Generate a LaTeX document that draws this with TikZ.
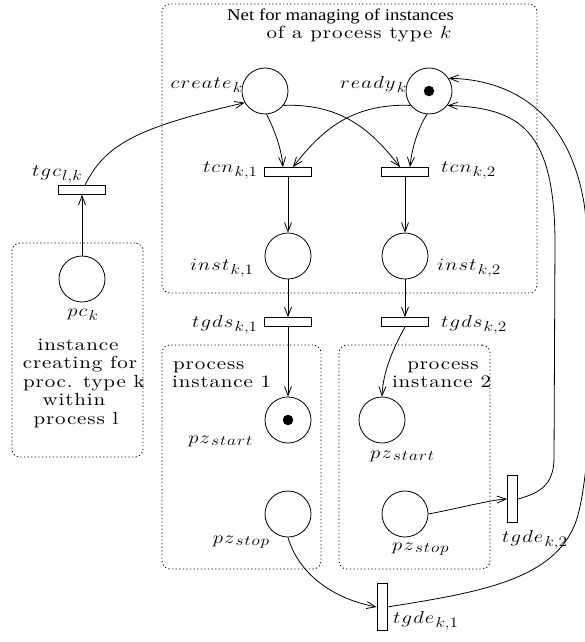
\documentclass[tikz,border=0pt]{standalone}
\usepackage{graphicx}
\usepackage{fontspec}
\usetikzlibrary{arrows.meta,calc}
\newfontfamily\timesf{Liberation Serif}
\newfontfamily\cmsp{lmroman10-regular}[Extension=.otf,LetterSpace=4]
\DeclareMathSizes{17}{17}{14}{11}
% math identifiers set with a little space between their letters
\makeatletter
\newcommand\spmath[1]{\@tfor\spm@t:=#1\do{\spm@t\mkern1mu}}
\makeatother
% all texts are set slightly widened
\newcommand\wtxt[1]{\scalebox{1.2}[1]{#1}}
\tikzset{
  place/.style={draw, circle, line width=0.8pt, minimum size=46pt, inner sep=0pt},
  token/.style={fill, circle, minimum size=10.5pt, inner sep=0pt},
  transh/.style={draw, rectangle, line width=0.8pt, minimum width=47pt, minimum height=9pt, inner sep=0pt},
  transv/.style={draw, rectangle, line width=0.8pt, minimum width=10pt, minimum height=47pt, inner sep=0pt},
  frame/.style={draw, rectangle, rounded corners=8pt, line width=0.8pt, dash pattern=on 1.2pt off 2.4pt, inner sep=0pt},
  arc/.style={draw, line width=0.8pt, -{Straight Barb[length=9pt,width=7pt]}},
  mlbl/.style={font=\fontsize{17}{20}\selectfont, inner sep=0pt},
  romsp/.style={font=\cmsp\fontsize{17.5}{18.5}\selectfont, inner sep=0pt},
}
\begin{document}
\begin{tikzpicture}[x=1pt,y=-1pt]
\useasboundingbox (0,0) rectangle (584,642);

% dotted frames
\node[frame, minimum width=375pt, minimum height=289pt] (netbox) at (349.5,148.5) {};
\node[frame, minimum width=131pt, minimum height=214pt] (crbox) at (77.5,350) {};
\node[frame, minimum width=159pt, minimum height=224pt] (pibox1) at (241.5,457) {};
\node[frame, minimum width=151pt, minimum height=224pt] (pibox2) at (414.5,457) {};

% frame texts
\node[anchor=base, inner sep=0pt, font=\timesf\fontsize{16.5}{20}\selectfont] (title1) at (340.5,21) {\scalebox{1.14}[1]{Net for managing of instances}};
\node[romsp, anchor=base] (title2) at (359,39) {\wtxt{of a process type $k$}};
\node[romsp, anchor=base] (cr1) at (78,350) {\wtxt{instance}};
\node[romsp, anchor=base] (cr2) at (80,368.5) {\wtxt{creating for}};
\node[romsp, anchor=base] (cr3) at (84,387) {\wtxt{proc. type k}};
\node[romsp, anchor=base] (cr4) at (74,405.5) {\wtxt{within}};
\node[romsp, anchor=base] (cr5) at (76,424) {\wtxt{process l}};
\node[romsp, anchor=base west] (pa1) at (173,369) {\wtxt{process}};
\node[romsp, anchor=base west] (pa2) at (172,387) {\wtxt{instance 1}};
\node[romsp, anchor=base] (pb1) at (443,369) {\wtxt{process}};
\node[romsp, anchor=base] (pb2) at (441.5,387) {\wtxt{instance 2}};

% places
\node[place] (create) at (265,91) {};
\node[place] (ready) at (429,91) {};
\node[token] (tokready) at (ready) {};
\node[place] (inst1) at (288,256) {};
\node[place] (inst2) at (405,256) {};
\node[place] (pc) at (82,279) {};
\node[place] (pzs1) at (288,420) {};
\node[token] (tokpzs1) at (pzs1) {};
\node[place] (pzp1) at (288,514) {};
\node[place] (pzs2) at (382,420) {};
\node[place] (pzp2) at (405,514) {};

% transitions
\node[transh] (tcn1) at (288,172) {};
\node[transh] (tcn2) at (405,172) {};
\node[transh] (tgds1) at (288,322) {};
\node[transh] (tgds2) at (405,322) {};
\node[transh] (tgc) at (82,190) {};
\node[transv] (tgde2) at (512.5,499) {};
\node[transv] (tgde1) at (382,607) {};

% labels
\node[mlbl, anchor=base east] (lcreate) at (243,88.5) {\wtxt{$\spmath{create}_k$}};
\node[mlbl, anchor=base east] (lready) at (407,88.5) {\wtxt{$\spmath{ready}_k$}};
\node[mlbl, anchor=base east] (ltcn1) at (258,172) {\wtxt{$\spmath{tcn}_{k,1}$}};
\node[mlbl, anchor=base west] (ltcn2) at (441,172) {\wtxt{$\spmath{tcn}_{k,2}$}};
\node[mlbl, anchor=base east] (linst1) at (254,270) {\wtxt{$\spmath{inst}_{k,1}$}};
\node[mlbl, anchor=base west] (linst2) at (437,270) {\wtxt{$\spmath{inst}_{k,2}$}};
\node[mlbl, anchor=base east] (ltgds1) at (258,327) {\wtxt{$\spmath{tgds}_{k,1}$}};
\node[mlbl, anchor=base west] (ltgds2) at (441,327) {\wtxt{$\spmath{tgds}_{k,2}$}};
\node[mlbl, anchor=base west] (ltgc) at (32,176) {\wtxt{$\spmath{tgc}_{l,k}$}};
\node[mlbl, anchor=base] (lpc) at (83,316) {\wtxt{$\spmath{pc}_k$}};
\node[mlbl, anchor=base east] (lpzs1) at (254,443) {\wtxt{$\spmath{pz}_{\spmath{start}}$}};
\node[mlbl, anchor=base east] (lpzp1) at (271,543) {\wtxt{$\spmath{pz}_{\spmath{stop}}$}};
\node[mlbl, anchor=base west] (lpzs2) at (370,458) {\wtxt{$\spmath{pz}_{\spmath{start}}$}};
\node[mlbl, anchor=base west] (lpzp2) at (392,550) {\wtxt{$\spmath{pz}_{\spmath{stop}}$}};
\node[mlbl, anchor=base west] (ltgde2) at (502,542) {\wtxt{$\spmath{tgde}_{k,2}$}};
\node[mlbl, anchor=base west] (ltgde1) at (393,623) {\wtxt{$\spmath{tgde}_{k,1}$}};

% arcs inside the management net
\draw[arc] (create.-86) .. controls (272,125) and (281,145) .. ([xshift=-5pt]tcn1.north);
\draw[arc] (create.-38) .. controls (345,103) and (375,135) .. ([xshift=-5pt]tcn2.north);
\draw[arc] (ready.-142) .. controls (348,103) and (318,135) .. ([xshift=5pt]tcn1.north);
\draw[arc] (ready.-95) .. controls (420,125) and (412,145) .. ([xshift=5pt]tcn2.north);
\draw[arc] (tcn1) -- (inst1);
\draw[arc] (tcn2) -- (inst2);
\draw[arc] (inst1) -- (tgds1);
\draw[arc] (inst2) -- (tgds2);

% starting the instances
\draw[arc] (tgds1) -- (pzs1);
\draw[arc] (tgds2.south) .. controls (395,345) and (383,370) .. (pzs2.north);

% creation request from process l
\draw[arc] (pc) -- (tgc);
\draw[arc] ([xshift=3pt]tgc.north) .. controls (105,145) and (135,128) .. (create.-150);

% termination of the instances
\draw[arc] (pzp2.east) .. controls (460,508) and (490,500) .. (tgde2.west);
\draw[arc] (tgde2.east) .. controls (540,493) and (553,485) .. (554,460)
  -- (555,240) .. controls (554,130) and (520,108) .. (ready.-38);
\draw[arc] (pzp1.south) .. controls (298,572) and (330,598) .. (tgde1.west);
\draw[arc] (tgde1.east) .. controls (480,592) and (560,580) .. (578,515)
  .. controls (595,450) and (595,280) .. (584,203)
  .. controls (570,120) and (520,80) .. (ready.33);
\end{tikzpicture}
\end{document}
